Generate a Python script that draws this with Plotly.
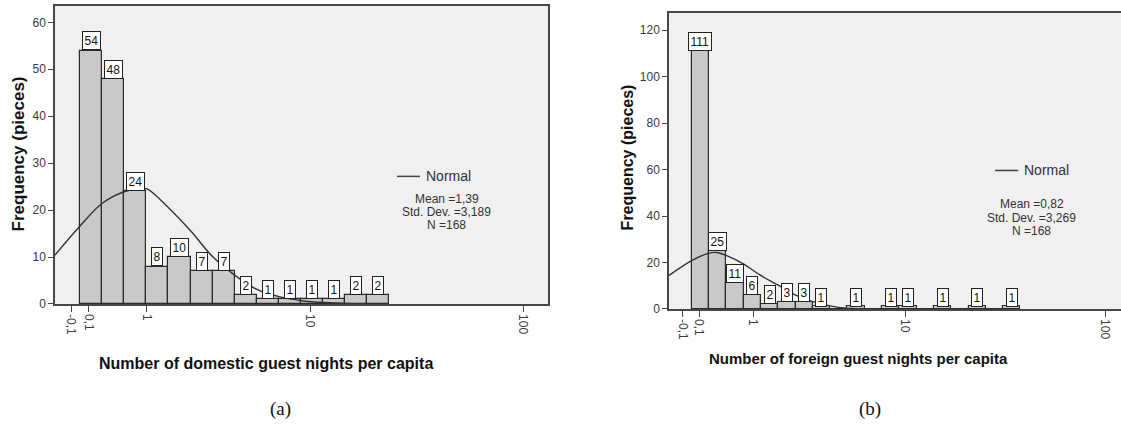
import plotly.graph_objects as go

# ---------------- data ----------------
# (a) domestic guest nights: equal-width bins (bin index on the transformed axis)
dom_counts = [54, 48, 24, 8, 10, 7, 7, 2, 1, 1, 1, 1, 2, 2]
# (b) foreign guest nights
for_counts = [111, 25, 11, 6, 2, 3, 3, 1, 0, 1, 0, 1, 1, 0, 1, 0, 1, 0, 1]

# x tick labels and their positions (in bin units)
tick_text = ["-0,1", "0,1", "1", "10", "100"]
dom_tickvals = [-0.407, 0.407, 3.02, 10.41, 20.05]
for_tickvals = [-0.52, 0.44, 3.56, 12.33, 23.89]

# normal curves (bin units, frequency)
dom_curve_x = [-1.131, 0.0, 0.995, 1.991, 2.715, 3.032, 4.027, 5.023, 6.018, 7.014, 8.009, 9.05, 10.045, 11.041, 12.036, 13.982]
dom_curve_y = [10.4, 16.6, 21.4, 23.9, 24.6, 24.5, 20.4, 15.5, 10.0, 6.1, 3.1, 1.5, 0.7, 0.3, 0.1, 0.02]
for_curve_x = [-1.312, 0.0, 1.0, 1.445, 2.023, 2.983, 3.988, 5.006, 6.012, 6.994, 7.994, 8.96, 10.306]
for_curve_y = [14.4, 20.8, 24.0, 24.3, 22.9, 19.4, 14.4, 10.2, 5.9, 3.1, 1.3, 0.3, 0.05]

dom_stats = ["Mean =1,39", "Std. Dev. =3,189", "N =168"]
for_stats = ["Mean =0,82", "Std. Dev. =3,269", "N =168"]

W, H = 1121, 430
FONT = "Liberation Sans, Arial, sans-serif"
BAR_FILL = "#c9c9c9"
EDGE = "#2b2b2b"
AX = "#474747"

def px(x):
    return x / W

def py(y):
    return 1 - y / H

fig = go.Figure()

def add_hist(counts, xa, ya, curve_x, curve_y):
    xs = [i + 0.5 for i in range(len(counts))]
    fig.add_trace(go.Bar(x=xs, y=counts, width=[1.0] * len(counts),
                         marker=dict(color=BAR_FILL, line=dict(color=EDGE, width=1.2)),
                         xaxis=xa, yaxis=ya, showlegend=False, hoverinfo="y"))
    fig.add_trace(go.Scatter(x=curve_x, y=curve_y, mode="lines",
                             line=dict(color="#333333", width=1.4, shape="spline", smoothing=1.0),
                             xaxis=xa, yaxis=ya, showlegend=False))
    annots = []
    for x, c in zip(xs, counts):
        if c > 0:
            annots.append(dict(x=x, y=c, xref=xa, yref=ya, text=str(c),
                               showarrow=False, yanchor="bottom", xanchor="center",
                               font=dict(family=FONT, size=12, color="#111"),
                               bgcolor="white", bordercolor="#222", borderwidth=1, borderpad=1.5))
    return annots

annotations = []
annotations += add_hist(dom_counts, "x", "y", dom_curve_x, dom_curve_y)
annotations += add_hist(for_counts, "x2", "y2", for_curve_x, for_curve_y)

tickfont = dict(family=FONT, size=12, color="#3a3a3a")

fig.update_layout(
    width=W, height=H,
    margin=dict(l=0, r=0, t=0, b=0),
    paper_bgcolor="white",
    plot_bgcolor="#f0f0f0",
    bargap=0,
    xaxis=dict(domain=[px(55), px(548)], range=[-1.131, 21.176], anchor="y",
               tickmode="array", tickvals=dom_tickvals, ticktext=tick_text, tickangle=90,
               ticks="outside", ticklen=6, tickcolor=AX, tickfont=tickfont,
               showline=True, linecolor=AX, linewidth=1.5, mirror=True,
               showgrid=False, zeroline=False),
    yaxis=dict(domain=[py(309), py(6)], range=[0, 63.5], anchor="x",
               tickvals=[0, 10, 20, 30, 40, 50, 60], ticks="outside", ticklen=5, tickcolor=AX,
               tickfont=tickfont, showline=True, linecolor=AX, linewidth=1.5, mirror=True,
               showgrid=False, zeroline=False),
    xaxis2=dict(domain=[px(669), 1.0], range=[-1.312, 24.815], anchor="y2",
                tickmode="array", tickvals=for_tickvals, ticktext=tick_text, tickangle=90,
                ticks="outside", ticklen=6, tickcolor=AX, tickfont=tickfont,
                showline=True, linecolor=AX, linewidth=1.5, mirror=True,
                showgrid=False, zeroline=False),
    yaxis2=dict(domain=[py(314), py(13.3)], range=[0, 127.4], anchor="x2",
                tickvals=[0, 20, 40, 60, 80, 100, 120], ticks="outside", ticklen=5, tickcolor=AX,
                tickfont=tickfont, showline=True, linecolor=AX, linewidth=1.5, mirror=False,
                showgrid=False, zeroline=False),
)

# axis titles
annotations += [
    dict(x=px(18), y=py(157), xref="paper", yref="paper", text="<b>Frequency (pieces)</b>",
         textangle=-90, showarrow=False, font=dict(family=FONT, size=17, color="#111111"),
         xanchor="center", yanchor="middle"),
    dict(x=px(627), y=py(160), xref="paper", yref="paper", text="<b>Frequency (pieces)</b>",
         textangle=-90, showarrow=False, font=dict(family=FONT, size=16, color="#111111"),
         xanchor="center", yanchor="middle"),
    dict(x=px(266), y=py(370), xref="paper", yref="paper",
         text="<b>Number of domestic guest nights per capita</b>",
         showarrow=False, font=dict(family=FONT, size=16, color="#111111"), xanchor="center", yanchor="middle"),
    dict(x=px(858), y=py(364), xref="paper", yref="paper",
         text="<b>Number of foreign guest nights per capita</b>",
         showarrow=False, font=dict(family=FONT, size=15, color="#111111"), xanchor="center", yanchor="middle"),
    dict(x=px(280), y=py(416), xref="paper", yref="paper", text="(a)", showarrow=False,
         font=dict(family="Liberation Serif, Times New Roman, serif", size=19, color="#111"),
         xanchor="center", yanchor="middle"),
    dict(x=px(870), y=py(416), xref="paper", yref="paper", text="(b)", showarrow=False,
         font=dict(family="Liberation Serif, Times New Roman, serif", size=19, color="#111"),
         xanchor="center", yanchor="middle"),
]

# legend-like "Normal" entries and statistics
leg_font = dict(family=FONT, size=14, color="#333333")
stat_font = dict(family=FONT, size=12, color="#333333")
shapes = []
for (lx0, lx1, ly) in [(397, 420, 179.3), (995, 1018.3, 173.3)]:
    shapes.append(dict(type="line", xref="paper", yref="paper", x0=px(lx0), x1=px(lx1),
                       y0=py(ly), y1=py(ly), line=dict(color="#444444", width=1.5)))
    annotations.append(dict(x=px(lx1 + 4), y=py(ly), xref="paper", yref="paper", text="Normal",
                            showarrow=False, font=leg_font, xanchor="left", yanchor="middle"))
stats_sets = [(dom_stats, 446.7, 202.3), (for_stats, 1031.7, 207.7)]
for lines, sx, sy in stats_sets:
    for i, t in enumerate(lines):
        annotations.append(dict(x=px(sx), y=py(sy + i * 13.4), xref="paper", yref="paper", text=t,
                                showarrow=False, font=stat_font, xanchor="center", yanchor="middle"))

fig.update_layout(annotations=annotations, shapes=shapes)
fig.write_html("out.html")
